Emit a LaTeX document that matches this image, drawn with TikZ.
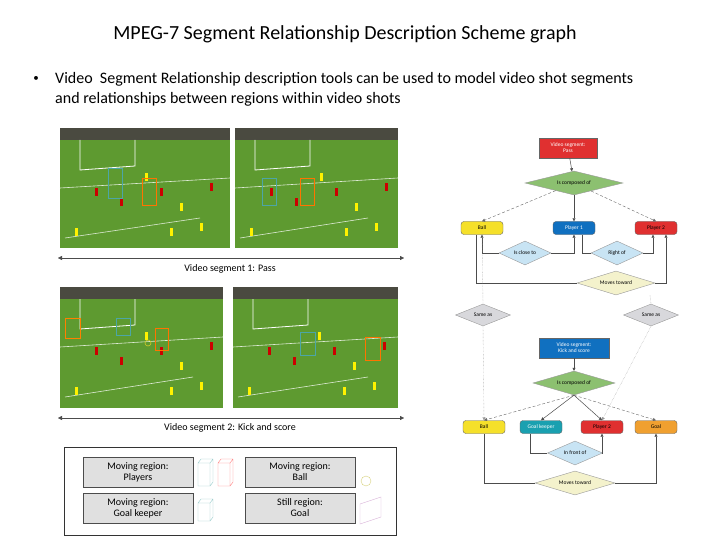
\documentclass[tikz,border=0pt]{standalone}
\usepackage{fontspec}
\setmainfont{Carlito}
\usetikzlibrary{shapes.geometric,arrows.meta}
\definecolor{gred}{HTML}{E03030}
\definecolor{gblue}{HTML}{1070C0}
\definecolor{gyel}{HTML}{F5E02A}
\definecolor{ggreen}{HTML}{8CC070}
\definecolor{glblue}{HTML}{C8E4F4}
\definecolor{gcream}{HTML}{F4F2CC}
\definecolor{ggray}{HTML}{D8D8DC}
\definecolor{gteal}{HTML}{1AA0B0}
\definecolor{gorange}{HTML}{F0A030}
\definecolor{field}{HTML}{5E9A30}
\definecolor{stand}{HTML}{4A4A40}
\begin{document}
\begin{tikzpicture}[x=1pt,y=-1pt,
  rbox/.style={rectangle,draw=black!60,minimum width=58pt,minimum height=20pt,font=\fontsize{5.5}{6}\selectfont,text=white,align=center,inner sep=1pt},
  obj/.style={rectangle,rounded corners=3pt,draw=black!60,minimum width=42pt,minimum height=13pt,font=\fontsize{5.5}{5.5}\selectfont,inner sep=1pt},
  rel/.style={diamond,aspect=4,draw=black!40,inner sep=0pt,font=\fontsize{5.5}{5.5}\selectfont},
  con/.style={draw=black!70,line width=0.5pt},
  dcon/.style={draw=black!60,line width=0.4pt,densely dashed},
  dot/.style={draw=black!40,line width=0.4pt,densely dotted},
  arr/.style={-{Triangle[length=3pt,width=3pt]}},
  leg/.style={rectangle,draw=black!70,fill=black!12,minimum width=110pt,minimum height=30pt,align=center,font=\fontsize{10}{11}\selectfont},
  photo/.style={fill=field}]
\useasboundingbox (0,0) rectangle (720,540);
\fill[white] (0,0) rectangle (720,540);
\node (title) at (345,34) {\fontsize{20}{22}\selectfont MPEG-7 Segment Relationship Description Scheme graph};
\node (bul) at (36,79) {\fontsize{11}{13}\selectfont •};
\node[anchor=west,align=left,inner sep=0pt,font=\fontsize{16}{20}\selectfont] (txt) at (55,89) {Video\ \ Segment Relationship description tools can be used to model video shot segments\\ and relationships between regions within video shots};
% photos
\foreach \a/\b/\c/\d in {60/128/230/248, 235/128/398/248, 60/287/223/408, 233/287/398/408}{
  \fill[field] (\a,\b) rectangle (\c,\d);
  \fill[stand] (\a,\b) rectangle (\c,\b+12);
  \draw[white,line width=0.8pt] (\a+20,\b+12) -- (\a+20,\b+42) -- (\a+75,\b+38) -- (\a+75,\b+12);
  \draw[white!80!field,line width=0.6pt] (\a,\b+60) -- (\c,\b+50);
  \draw[white!80!field,line width=0.6pt] (\a+5,\b+110) -- (\c-30,\b+90);
  \foreach \px/\py/\pc in {15/100/yellow,60/70/red!80!black,85/45/yellow,100/60/red!80!black,120/75/yellow,140/95/yellow,150/55/red!80!black,110/100/yellow,35/60/red!80!black}{
    \fill[\pc] (\a+\px,\b+\py) rectangle ++(3,8);}
}
\draw[teal!70,line width=0.6pt] (108,168) rectangle (122,198);
\draw[orange!90!red,line width=0.6pt] (142,178) rectangle (156,205);
\draw[teal!70,line width=0.6pt] (262,178) rectangle (276,205);
\draw[orange!90!red,line width=0.6pt] (300,178) rectangle (314,205);
\draw[orange,line width=0.6pt] (65,318) rectangle (80,338);
\draw[teal!70,line width=0.6pt] (116,318) rectangle (130,335);
\draw[orange!90!red,line width=0.6pt] (155,328) rectangle (168,350);
\draw[yellow!80!black,line width=0.6pt] (148,343) circle (3);
\draw[teal!70,line width=0.6pt] (300,332) rectangle (315,355);
\draw[orange!90!red,line width=0.6pt] (365,337) rectangle (380,360);
% segment arrows
\coordinate (s1a) at (58,258); \coordinate (s1b) at (404,258);
\draw[{Triangle[length=4pt,width=4pt]}-{Triangle[length=4pt,width=4pt]},black!70] (s1a) -- (s1b);
\node (s1) at (230,269) {\fontsize{10}{11}\selectfont Video segment 1: Pass};
\coordinate (s2a) at (58,418); \coordinate (s2b) at (404,418);
\draw[{Triangle[length=4pt,width=4pt]}-{Triangle[length=4pt,width=4pt]},black!70] (s2a) -- (s2b);
\node (s2) at (230,428) {\fontsize{10}{11}\selectfont Video segment 2: Kick and score};
% legend
\draw[black!80,line width=0.6pt] (64,447) rectangle (396,535);
\node[leg] (l1) at (138,472) {Moving region:\\Players};
\node[leg] (l2) at (138,508) {Moving region:\\Goal keeper};
\node[leg] (l3) at (300,472) {Moving region:\\Ball};
\node[leg] (l4) at (300,508) {Still region:\\Goal};
\draw[teal!40] (198,463) rectangle (210,486) (198,463) -- (201,459) -- (213,459) -- (213,482) -- (210,486) (210,463) -- (213,459);
\draw[red!50] (218,463) rectangle (230,486) (218,463) -- (221,459) -- (233,459) -- (233,482) -- (230,486) (230,463) -- (233,459);
\draw[teal!40] (198,503) rectangle (210,521) (198,503) -- (201,499) -- (213,499) -- (213,517) -- (210,521) (210,503) -- (213,499);
\draw[yellow!70!black!60] (366,481) circle (5);
\draw[violet!30] (360,504) -- (381,497) -- (381,517) -- (360,524) -- cycle;
% graph top
\node[rbox,fill=gred] (vp) at (568,148) {Video segment:\\Pass};
\node[rel,fill=ggreen,minimum width=98pt,minimum height=24pt] (c1) at (574,183) {Is composed of};
\node[obj,fill=gyel] (b1) at (482,228) {Ball};
\node[obj,fill=gblue,text=white] (p1) at (574,228) {Player 1};
\node[obj,fill=gred] (p2) at (656,228) {Player 2};
\node[rel,fill=glblue,minimum width=52pt,minimum height=24pt] (cl) at (525,253) {Is close to};
\node[rel,fill=glblue,minimum width=52pt,minimum height=24pt] (ro) at (617,253) {Right of};
\node[rel,fill=gcream,minimum width=78pt,minimum height=24pt] (mt1) at (616,283) {Moves toward};
\node[rel,fill=ggray,minimum width=55pt,minimum height=22pt] (sa1) at (483,315) {Same as};
\node[rel,fill=ggray,minimum width=55pt,minimum height=22pt] (sa2) at (651,315) {Same as};
\draw[con,arr] (vp) -- (c1);
\draw[dcon,arr] (c1) -- (b1.north);
\draw[con,arr] (c1) -- (p1);
\draw[dcon,arr] (c1) -- (p2.north);
\draw[con,arr] (cl.west) -| (b1.south);
\draw[con,arr] (cl.east) -| (p1.south);
\draw[con] (ro.west) -| ([xshift=8pt]p1.south);
\draw[con,arr] (ro.east) -| ([xshift=-3pt]p2.south);
\draw[con] (mt1.west) -| ([xshift=-6pt]b1.south);
\draw[con,arr] (mt1.east) -| ([xshift=10pt]p2.south);
\draw[dot] (b1.south) -- (sa1.north);
\draw[dot] ([xshift=-6pt]p2.south |- mt1.south) -- (sa2.north);
% graph bottom
\node[rbox,fill=gblue,minimum width=70pt] (vk) at (574,348) {Video segment:\\Kick and score};
\node[rel,fill=ggreen,minimum width=82pt,minimum height=24pt] (c2) at (574,383) {Is composed of};
\node[obj,fill=gyel] (b2) at (484,427) {Ball};
\node[obj,fill=gteal,text=white] (gk) at (541,427) {Goal keeper};
\node[obj,fill=gred] (pp2) at (602,427) {Player 2};
\node[obj,fill=gorange] (gl) at (656,427) {Goal};
\node[rel,fill=glblue,minimum width=55pt,minimum height=24pt] (fo) at (575,453) {In front of};
\node[rel,fill=gcream,minimum width=80pt,minimum height=24pt] (mt2) at (575,483) {Moves toward};
\draw[con,arr] (vk) -- (c2);
\draw[dcon,arr] (c2.south) -- (b2.north);
\draw[con,arr] (c2.south) -- (gk.north);
\draw[con,arr] (c2.south) -- (pp2.north);
\draw[dcon,arr] (c2.south) -- (gl.north);
\draw[dot,arr] (sa1.south) -- (b2.north);
\draw[dot,arr] (sa2.south) -- (pp2.north);
\draw[con] (fo.west) -| ([xshift=-11pt]gk.south);
\draw[con,arr] (fo.east) -| (pp2.south);
\draw[con] (mt2.west) -| (b2.south);
\draw[con,arr] (mt2.east) -| (gl.south);
\end{tikzpicture}
\end{document}
